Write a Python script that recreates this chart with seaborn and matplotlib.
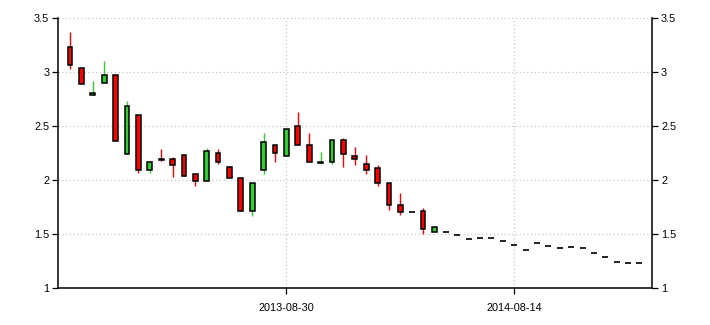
import numpy as np
import pandas as pd
import matplotlib
matplotlib.use("Agg")
import matplotlib.pyplot as plt
import seaborn as sns

# ---- data ----
opens  = [3.23, 3.04, 2.79, 2.90, 2.97, 2.24, 2.60, 2.09, 2.20, 2.20,
          2.23, 2.06, 1.99, 2.25, 2.12, 2.02, 1.71, 2.09, 2.33, 2.22,
          2.50, 2.33, 2.16, 2.17, 2.37, 2.22, 2.15, 2.11, 1.97, 1.77,
          1.70, 1.71, 1.52, 1.52, 1.49, 1.455, 1.465, 1.465, 1.435, 1.40,
          1.35, 1.42, 1.39, 1.37, 1.38, 1.37, 1.325, 1.29, 1.24, 1.23, 1.23]
highs  = [3.37, 3.04, 2.92, 3.10, 2.97, 2.73, 2.60, 2.17, 2.29, 2.21,
          2.23, 2.06, 2.30, 2.29, 2.13, 2.02, 1.97, 2.44, 2.33, 2.47,
          2.63, 2.44, 2.26, 2.38, 2.39, 2.31, 2.23, 2.14, 1.97, 1.88,
          1.70, 1.74, 1.57, 1.52, 1.49, 1.455, 1.465, 1.465, 1.435, 1.40,
          1.35, 1.42, 1.39, 1.37, 1.38, 1.37, 1.325, 1.29, 1.24, 1.23, 1.23]
lows   = [3.03, 2.89, 2.79, 2.90, 2.36, 2.24, 2.07, 2.07, 2.18, 2.03,
          2.04, 1.95, 1.99, 2.15, 2.02, 1.71, 1.67, 2.06, 2.17, 2.22,
          2.33, 2.17, 2.15, 2.15, 2.12, 2.14, 2.06, 1.95, 1.72, 1.68,
          1.70, 1.50, 1.52, 1.52, 1.49, 1.455, 1.465, 1.465, 1.435, 1.40,
          1.35, 1.42, 1.39, 1.37, 1.38, 1.37, 1.325, 1.29, 1.24, 1.23, 1.23]
closes = [3.07, 2.89, 2.81, 2.97, 2.36, 2.69, 2.09, 2.17, 2.19, 2.14,
          2.04, 1.99, 2.27, 2.17, 2.02, 1.71, 1.97, 2.35, 2.25, 2.47,
          2.33, 2.17, 2.17, 2.37, 2.24, 2.20, 2.09, 1.97, 1.77, 1.70,
          1.70, 1.55, 1.57, 1.52, 1.49, 1.455, 1.465, 1.465, 1.435, 1.40,
          1.35, 1.42, 1.39, 1.37, 1.38, 1.37, 1.325, 1.29, 1.24, 1.23, 1.23]
date_tick_idx = [19, 39]
date_tick_labels = ["2013-08-30", "2014-08-14"]
y_ticks = [1, 1.5, 2, 2.5, 3, 3.5]
y_tick_labels = ["1", "1.5", "2", "2.5", "3", "3.5"]

df = pd.DataFrame({"open": opens, "high": highs, "low": lows, "close": closes})
df["idx"] = np.arange(len(df))
df["up"] = df["close"] >= df["open"]
df["flat"] = (df["high"] == df["low"])

RED = "#ff0000"
GREEN = "#32cd32"

sns.set_style("white")
plt.rcParams["font.family"] = ["Liberation Sans", "DejaVu Sans"]

fig = plt.figure(figsize=(7.10, 3.25), dpi=100)
ax = fig.add_axes([0.0821, 0.1138, 0.9183 - 0.0821, 0.9437 - 0.1138])

candles = df[~df["flat"]]
# wicks
wick_colors = [GREEN if u else RED for u in candles["up"]]
ax.vlines(candles["idx"], candles["low"], candles["high"], colors=wick_colors,
          linewidth=1.0, zorder=2)
# bodies
bottoms = np.minimum(candles["open"], candles["close"])
heights = np.maximum(np.abs(candles["close"] - candles["open"]), 0.004)
ax.bar(candles["idx"], heights, bottom=bottoms, width=0.42,
       color=wick_colors, edgecolor="black", linewidth=1.1, zorder=3)

# flat periods shown as short black dashes
flat = df[df["flat"]]
sns.scatterplot(data=flat, x="idx", y="close", marker="_", s=22,
                color="black", linewidth=1.2, ax=ax, zorder=3, legend=False)

ax.set_xlim(-1.03, 51.1)
ax.set_ylim(1, 3.5)
ax.set_yticks(y_ticks)
ax.set_yticklabels(y_tick_labels)
ax.set_xticks(date_tick_idx)
ax.set_xticklabels(date_tick_labels)
ax.set_xlabel("")
ax.set_ylabel("")

ax.grid(True, color="#c8c8c8", linestyle=(0, (1, 2)), linewidth=0.9, zorder=0)
ax.set_axisbelow(True)

for s in ["left", "right", "bottom"]:
    ax.spines[s].set_visible(True)
    ax.spines[s].set_color("black")
    ax.spines[s].set_linewidth(1.1)
ax.spines["top"].set_visible(False)

ax.tick_params(axis="both", which="major", direction="out", length=4.5,
               width=0.9, color="black", labelsize=7.8, labelcolor="black", pad=2)
ax.tick_params(axis="y", left=True, right=True, labelleft=True, labelright=True)
ax.tick_params(axis="x", bottom=True, pad=6)

fig.savefig("out.png", dpi=100)
